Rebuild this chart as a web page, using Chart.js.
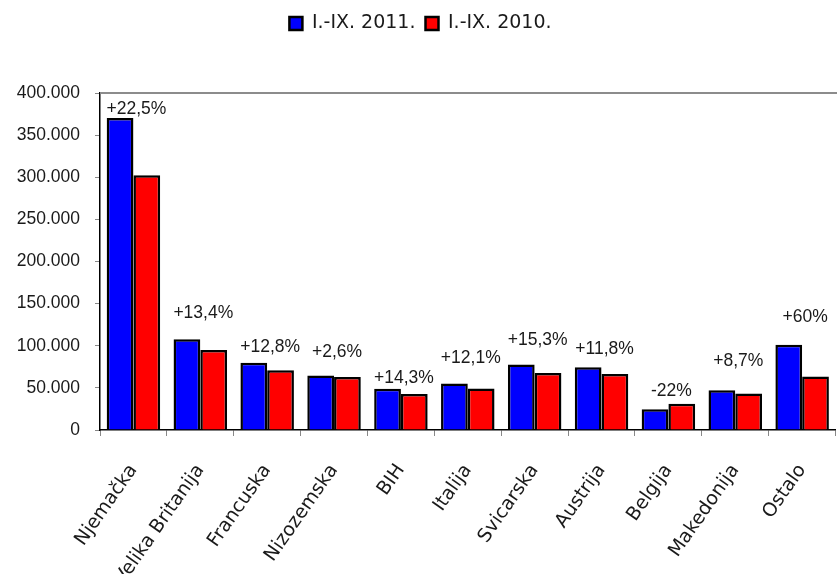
<!DOCTYPE html>
<html>
<head>
<meta charset="utf-8">
<script src="https://cdn.jsdelivr.net/npm/chart.js@4.4.1/dist/chart.umd.min.js"></script>
<style>
  html, body { margin: 0; padding: 0; background: #fff; overflow: hidden; }
  #wrap { width: 845px; height: 574px; }
</style>
</head>
<body>
<div id="wrap"><canvas id="c"></canvas></div>
<script>
// countries
const categories = ['Njemačka', 'Velika Britanija', 'Francuska', 'Nizozemska', 'BIH', 'Italija',
                    'Svicarska', 'Austrija', 'Belgija', 'Makedonija', 'Ostalo'];
const series2011 = [370400, 107600, 79800, 64600, 48900, 55200, 77700, 74500, 24500, 47300, 101300];
const series2010 = [302300, 94900, 70800, 63000, 42600, 49300, 67800, 66600, 31300, 43400, 63600];
// change labels above each pair and the value-level where they sit
const changeLabels = ['+22,5%', '+13,4%', '+12,8%', '+2,6%', '+14,3%', '+12,1%', '+15,3%', '+11,8%', '-22%', '+8,7%', '+60%'];
const changeLabelAt = [380700, 138300, 98500, 92600, 61800, 85500, 107200, 95400, 46100, 81600, 134000];
const legendNames = ['I.-IX. 2011.', 'I.-IX. 2010.'];

function fmt(v){ return String(v).replace(/\B(?=(\d{3})+(?!\d))/g, '.'); }

const NUM_FONT = { family: '"Liberation Sans", Arial, sans-serif', size: 17.5 };
const TXT_FONT = { family: '"DejaVu Sans", sans-serif', size: 19 };

const legendGap = {
  id: 'legendGap',
  beforeInit(chart){
    const orig = chart.legend.fit;
    chart.legend.fit = function(){ orig.bind(chart.legend)(); this.height += 50; };
  }
};

const extras = {
  id: 'extras',
  afterDatasetsDraw(chart){
    const ctx = chart.ctx, a = chart.chartArea;
    const xs = chart.scales.x, ys = chart.scales.y;
    ctx.save();
    // grey frame line on top
    ctx.strokeStyle = '#8c8c8c';
    ctx.lineWidth = 2;
    ctx.beginPath(); ctx.moveTo(a.left, a.top); ctx.lineTo(a.right + 10, a.top); ctx.stroke();
    // change labels
    ctx.fillStyle = '#1a1a1a';
    ctx.font = NUM_FONT.size + 'px ' + NUM_FONT.family;
    ctx.textAlign = 'center';
    ctx.textBaseline = 'middle';
    changeLabels.forEach((t, i) => {
      ctx.fillText(t, xs.getPixelForValue(i) + 3, ys.getPixelForValue(changeLabelAt[i]));
    });
    ctx.restore();
  }
};

new Chart(document.getElementById('c'), {
  type: 'bar',
  data: {
    labels: categories,
    datasets: [
      { label: legendNames[0], data: series2011, backgroundColor: '#0000ff', borderColor: '#000', borderWidth: 2.5 },
      { label: legendNames[1], data: series2010, backgroundColor: '#ff0000', borderColor: '#000', borderWidth: 2.5 }
    ]
  },
  options: {
    responsive: true,
    maintainAspectRatio: false,
    animation: false,
    layout: { padding: { top: 4, right: 4, left: 0, bottom: 0 } },
    datasets: { bar: { categoryPercentage: 0.8, barPercentage: 1.0 } },
    plugins: {
      legend: {
        position: 'top',
        labels: {
          font: TXT_FONT, color: '#1a1a1a',
          boxWidth: 13, boxHeight: 13, padding: 10
        }
      },
      tooltip: { enabled: false }
    },
    scales: {
      x: {
        grid: { offset: true, drawOnChartArea: false, tickLength: 6, color: '#888', lineWidth: 1 },
        border: { color: '#000', width: 1.5 },
        ticks: {
          autoSkip: false, minRotation: 55, maxRotation: 55, padding: 24,
          font: TXT_FONT, color: '#1a1a1a'
        },
        afterFit(s){ s.height = 144; }
      },
      y: {
        min: 0, max: 400000,
        grid: { drawOnChartArea: false, tickLength: 5, color: '#888', lineWidth: 1 },
        border: { color: '#000', width: 1.5 },
        ticks: {
          stepSize: 50000, padding: 15, font: NUM_FONT, color: '#1a1a1a',
          callback: v => fmt(v)
        },
        afterFit(s){ s.width = 100; }
      }
    }
  },
  plugins: [legendGap, extras]
});
</script>
</body>
</html>
